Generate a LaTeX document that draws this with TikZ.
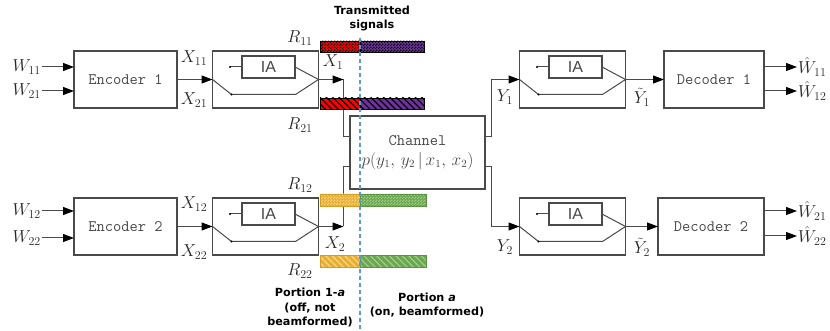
\documentclass[tikz,border=0pt]{standalone}
\usepackage{fontspec}
\newfontfamily\lblfont{DejaVu Sans}
\newfontfamily\iafont{Liberation Sans}
\usetikzlibrary{arrows.meta,patterns,patterns.meta}
\pgfdeclarepatternformonly{finecheck}{\pgfqpoint{0pt}{0pt}}{\pgfqpoint{3pt}{3pt}}{\pgfqpoint{3pt}{3pt}}{%
 \pgfpathrectangle{\pgfqpoint{0pt}{0pt}}{\pgfqpoint{1.5pt}{1.5pt}}%
 \pgfpathrectangle{\pgfqpoint{1.5pt}{1.5pt}}{\pgfqpoint{1.5pt}{1.5pt}}%
 \pgfusepath{fill}}
\definecolor{boxc}{HTML}{4A4A4A}
\definecolor{redbar}{HTML}{FF0000}
\definecolor{purp}{HTML}{7030A0}
\definecolor{gold}{HTML}{E8AE30}
\definecolor{goldl}{HTML}{F7D68A}
\definecolor{goldd}{HTML}{D49C22}
\definecolor{grn}{HTML}{6AA84F}
\definecolor{grnl}{HTML}{A2CC8A}
\definecolor{grnd}{HTML}{5A9440}
\definecolor{dashc}{HTML}{5B9BD5}
\newcommand\IAunit[3]{%
 \node[blk,minimum width=106pt,minimum height=57pt] (#1) at (#2,#3) {};
 \node[blk,iatxt,minimum width=53pt,minimum height=22pt] (#1in) at ([shift={(3,-12.5)}]#1.center) {IA};
 \coordinate (#1b1) at ([shift={(19,15)}]#1.west);
 \coordinate (#1b2) at ([shift={(-23,15)}]#1.east);
 \coordinate (#1d) at ([shift={(-12,0)}]#1in.west);
 \draw[wire] (#1.west) -- (#1b1) -- (#1b2) -- (#1.east);
 \draw[wire] (#1d) -- (#1in.west);
 \draw[wire] (#1in.east) -- (#1.east);
 \fill (#1d) circle (1.1pt);
 \fill (#1b1) circle (1.1pt);
}
\begin{document}
\begin{tikzpicture}[x=1pt,y=-1pt,
  blk/.style={draw=boxc,line width=1.1pt,inner sep=0pt,outer sep=0pt,
    font=\ttfamily\fontsize{16}{18}\selectfont,text=black!72},
  iatxt/.style={font=\iafont\fontsize{16}{18}\selectfont},
  wire/.style={draw=boxc,line width=1pt},
  arr/.style={wire,-{Triangle[length=11pt,width=8pt,color=black]}},
  lbl/.style={font=\fontsize{16.5}{18}\selectfont,inner sep=0pt,text=black!85},
  note/.style={font=\lblfont\bfseries\fontsize{11.2}{14.5}\selectfont,align=center,inner sep=0pt},
  barA/.style={draw=black,line width=0.8pt},
  barB/.style={line width=0.8pt},
]
\useasboundingbox (0,0) rectangle (830,331);

% encoders / decoders
\node[blk,minimum width=103pt,minimum height=57pt] (enc1) at (125.5,79.5) {Encoder 1};
\node[blk,minimum width=103pt,minimum height=57pt] (enc2) at (125.5,226.5) {Encoder 2};
\node[blk,minimum width=100pt,minimum height=57pt] (dec1) at (714,79.5) {Decoder 1};
\node[blk,minimum width=106pt,minimum height=57pt] (dec2) at (711,226.5) {Decoder 2};
\node[blk,minimum width=135pt,minimum height=73pt,align=center] (ch) at (417.5,152.5)
  {Channel\\[2pt]$p(y_1,\,y_2\,|\,x_1,\,x_2)$};

% IA units
\IAunit{iaa}{265.5}{79.5}
\IAunit{iab}{265.5}{226.5}
\IAunit{iac}{572.5}{79.5}
\IAunit{iad}{572.5}{226.5}

% inputs
\coordinate (w11) at (42,67);
\coordinate (w21) at (42,91);
\coordinate (w12) at (42,211);
\coordinate (w22) at (42,238);
\draw[arr] (w11) -- (w11 -| enc1.west);
\draw[arr] (w21) -- (w21 -| enc1.west);
\draw[arr] (w12) -- (w12 -| enc2.west);
\draw[arr] (w22) -- (w22 -| enc2.west);
\node[lbl,anchor=east] (lw11) at ([xshift=-1]w11) {$W_{11}$};
\node[lbl,anchor=east] (lw21) at ([xshift=-1]w21) {$W_{21}$};
\node[lbl,anchor=east] (lw12) at ([xshift=-1]w12) {$W_{12}$};
\node[lbl,anchor=east] (lw22) at ([xshift=-1]w22) {$W_{22}$};

% encoder -> IA
\draw[arr] (enc1.east) -- (iaa.west);
\draw[arr] (enc2.east) -- (iab.west);
\node[lbl] (lx11) at (194,58) {$X_{11}$};
\node[lbl] (lx21) at (194,100) {$X_{21}$};
\node[lbl] (lx12) at (194,204) {$X_{12}$};
\node[lbl] (lx22) at (194,252) {$X_{22}$};

% IA -> channel
\coordinate (chi1) at ([shift={(0,21)}]ch.north west);
\coordinate (chi2) at ([shift={(0,-22)}]ch.south west);
\coordinate (cho1) at ([shift={(0,21)}]ch.north east);
\coordinate (cho2) at ([shift={(0,-22)}]ch.south east);
\coordinate (x1t) at ([xshift=25]iaa.east);
\coordinate (x2t) at ([xshift=25]iab.east);
\draw[wire] (x1t) |- (chi1);
\draw[wire] (x2t) |- (chi2);
\draw[arr] (iaa.east) -- (x1t);
\draw[arr] (iab.east) -- (x2t);
\node[lbl] (lx1) at (333,62) {$X_1$};
\node[lbl] (lx2) at (335,244) {$X_2$};

% channel -> IA right
\coordinate (y1c) at ([xshift=6]cho1);
\coordinate (y2c) at ([xshift=6]cho2);
\draw[arr] (cho1) -- (y1c) |- (iac.west);
\draw[arr] (cho2) -- (y2c) |- (iad.west);
\node[lbl] (ly1) at (505,97) {$Y_1$};
\node[lbl] (ly2) at (505,247) {$Y_2$};
\draw[arr] (iac.east) -- (dec1.west);
\draw[arr] (iad.east) -- (dec2.west);
\node[lbl] (lty1) at (642,97) {$\tilde{Y}_1$};
\node[lbl] (lty2) at (642,247) {$\tilde{Y}_2$};

% outputs
\coordinate (o11) at (797,67);
\coordinate (o12) at (797,91);
\coordinate (o21) at (797,211);
\coordinate (o22) at (797,236);
\draw[arr] (o11 -| dec1.east) -- (o11);
\draw[arr] (o12 -| dec1.east) -- (o12);
\draw[arr] (o21 -| dec2.east) -- (o21);
\draw[arr] (o22 -| dec2.east) -- (o22);
\node[lbl,anchor=west] (lo11) at ([xshift=1]o11) {$\hat{W}_{11}$};
\node[lbl,anchor=west] (lo12) at ([xshift=1]o12) {$\hat{W}_{12}$};
\node[lbl,anchor=west] (lo21) at ([xshift=1]o21) {$\hat{W}_{21}$};
\node[lbl,anchor=west] (lo22) at ([xshift=1]o22) {$\hat{W}_{22}$};

% rate labels
\node[lbl] (r11) at (300,38) {$R_{11}$};
\node[lbl] (r21) at (300,125) {$R_{21}$};
\node[lbl] (r12) at (300,185) {$R_{12}$};
\node[lbl] (r22) at (300,271) {$R_{22}$};

% transmitted signal bars
\path[barA,preaction={fill=redbar},pattern=finecheck,pattern color=black] (320,41) rectangle (360,52);
\path[barA,preaction={fill=purp},pattern=finecheck,pattern color=black] (360,41) rectangle (424,52);
\path[barA,preaction={fill=redbar},pattern={Lines[angle=-45,distance=4.5pt,line width=1.2pt]},pattern color=black] (320,98) rectangle (360,109);
\path[barA,preaction={fill=purp},pattern={Lines[angle=-45,distance=4.5pt,line width=1.2pt]},pattern color=black] (360,98) rectangle (424,109);
\path[barB,draw=goldd,preaction={fill=gold},pattern=finecheck,pattern color=goldl] (320,194) rectangle (360,206);
\path[barB,draw=grnd,preaction={fill=grn},pattern=finecheck,pattern color=grnl] (360,194) rectangle (426,206);
\path[barB,draw=goldd,preaction={fill=gold},pattern={Lines[angle=-45,distance=4.5pt,line width=1.2pt]},pattern color=goldl] (320,255) rectangle (360,267);
\path[barB,draw=grnd,preaction={fill=grn},pattern={Lines[angle=-45,distance=4.5pt,line width=1.2pt]},pattern color=grnl] (360,255) rectangle (426,267);

% dashed divider
\coordinate (dtop) at (360,38);
\coordinate (dbot) at (360,331);
\draw[dashc,line width=1.2pt,dash pattern=on 4pt off 3pt] (dtop) -- (dbot);

% notes
\node[note] (ts) at (372,18.5) {Transmitted\\signals};
\node[note] (pa1) at (310,307.5) {Portion 1-\textit{a}\\(off, not\\beamformed)};
\node[note] (pa) at (427,305) {Portion \textit{a}\\(on, beamformed)};
\end{tikzpicture}
\end{document}
